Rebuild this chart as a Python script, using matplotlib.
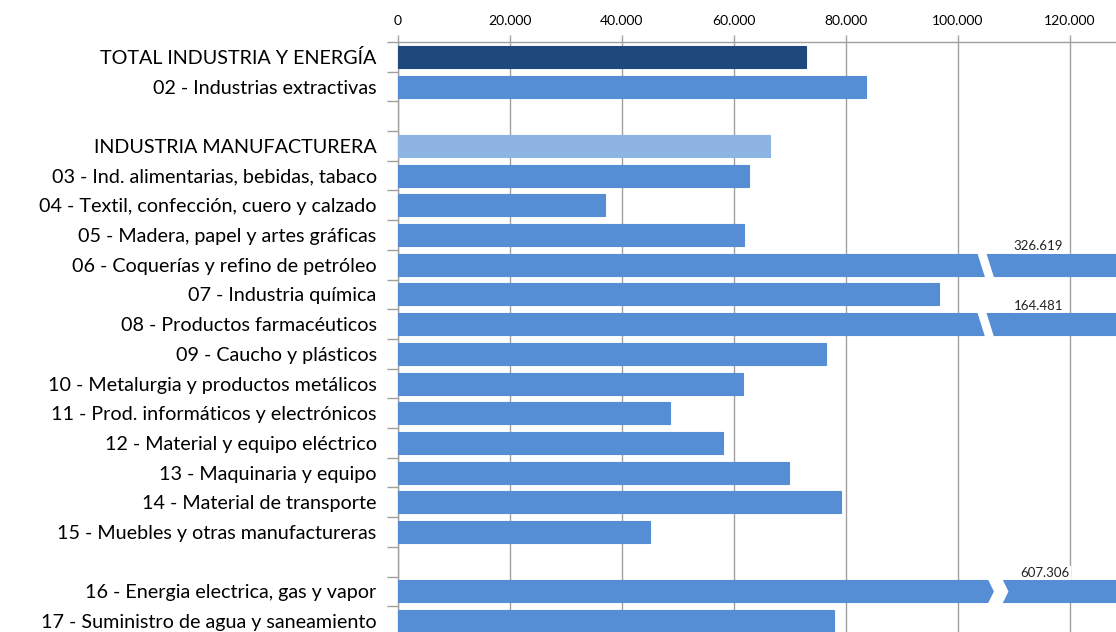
import numpy as np
import matplotlib
matplotlib.use("Agg")
from matplotlib import pyplot as plt
from matplotlib.patches import Polygon
from matplotlib.ticker import FuncFormatter

plt.rcParams['font.family'] = ['Lato', 'DejaVu Sans']

# datos ("" = fila vacia)
categorias = ["TOTAL INDUSTRIA Y ENERGÍA",
              "02 - Industrias extractivas",
              "",
              "INDUSTRIA MANUFACTURERA",
              "03 - Ind. alimentarias, bebidas, tabaco",
              "04 - Textil, confección, cuero y calzado",
              "05 - Madera, papel y artes gráficas",
              "06 - Coquerías y refino de petróleo",
              "07 - Industria química",
              "08 - Productos farmacéuticos",
              "09 - Caucho y plásticos",
              "10 - Metalurgia y productos metálicos",
              "11 - Prod. informáticos y electrónicos",
              "12 - Material y equipo eléctrico",
              "13 - Maquinaria y equipo",
              "14 - Material de transporte",
              "15 - Muebles y otras manufactureras",
              "",
              "16 - Energia electrica, gas y vapor",
              "17 - Suministro de agua y saneamiento"]
valores = [72900, 83700, None, 66500, 62800, 37100, 61900, 326619, 96700,
           164481, 76500, 61700, 48700, 58100, 69900, 79200, 45100, None,
           607306, 78000]
ticks_x = [0, 20000, 40000, 60000, 80000, 100000, 120000]

azul_oscuro = "#1f497d"
azul = "#558ed5"
azul_claro = "#8eb4e3"
colores = [azul_oscuro, azul, azul, azul_claro] + [azul] * 16

x_max = 128300

fig = plt.figure(figsize=(11.16, 6.32), dpi=100)
ax = fig.add_axes([397.5 / 1116, -4 / 632, 1 - 397.5 / 1116, 594 / 632])

y = np.arange(len(categorias))
for i, v in enumerate(valores):
    if v is None:
        continue
    ax.barh(y[i], min(v, x_max * 1.1), height=0.74, color=colores[i],
            edgecolor=colores[i], linewidth=0.8, zorder=3)
    if v > x_max:
        # marca de corte
        h = 0.37
        if v > 500000:
            c = 106700
            w = 1300
            pts = [(c - w, y[i] - h - 0.05), (c + w, y[i] - h - 0.05),
                   (c + w + 1100, y[i]), (c + w, y[i] + h + 0.05),
                   (c - w, y[i] + h + 0.05), (c - w + 1100, y[i])]
            tx = 120000
        else:
            c = 105000
            w = 800
            pts = [(c - w - 700, y[i] - h - 0.05), (c + w - 700, y[i] - h - 0.05),
                   (c + w + 700, y[i] + h + 0.05), (c - w + 700, y[i] + h + 0.05)]
            tx = 118900
        ax.add_patch(Polygon(pts, closed=True, facecolor="white",
                             edgecolor="none", zorder=4))
        ax.text(tx, y[i] - 0.42, "{:,}".format(v).replace(",", "."),
                ha="right", va="bottom", fontsize=9.5, color="#222222",
                bbox=dict(facecolor="white", edgecolor="none", pad=1.0),
                zorder=5)

ax.set_xticks(ticks_x)
ax.set_xlim(0, x_max)
ax.set_ylim(len(categorias) - 0.5, -0.5)
ax.set_yticks(y)
ax.set_yticklabels(categorias, fontsize=14.2)
ax.set_yticks(np.arange(len(categorias)) - 0.5, minor=True)
ax.tick_params(axis="y", which="major", length=0, pad=15)
ax.tick_params(axis="y", which="minor", length=8, color="#a0a0a0", width=1)

ax.xaxis.set_major_formatter(FuncFormatter(lambda v, p: "{:,.0f}".format(v).replace(",", ".")))
ax.xaxis.tick_top()
ax.tick_params(axis="x", which="major", length=5, color="#a0a0a0", width=1,
               labelsize=10, pad=6)
ax.grid(axis="x", color="#a0a0a0", linewidth=1, zorder=0)
ax.set_axisbelow(True)

for s in ["right", "bottom"]:
    ax.spines[s].set_visible(False)
for s in ["top", "left"]:
    ax.spines[s].set_color("#a0a0a0")
    ax.spines[s].set_linewidth(1)

fig.savefig("out.png", dpi=100)
